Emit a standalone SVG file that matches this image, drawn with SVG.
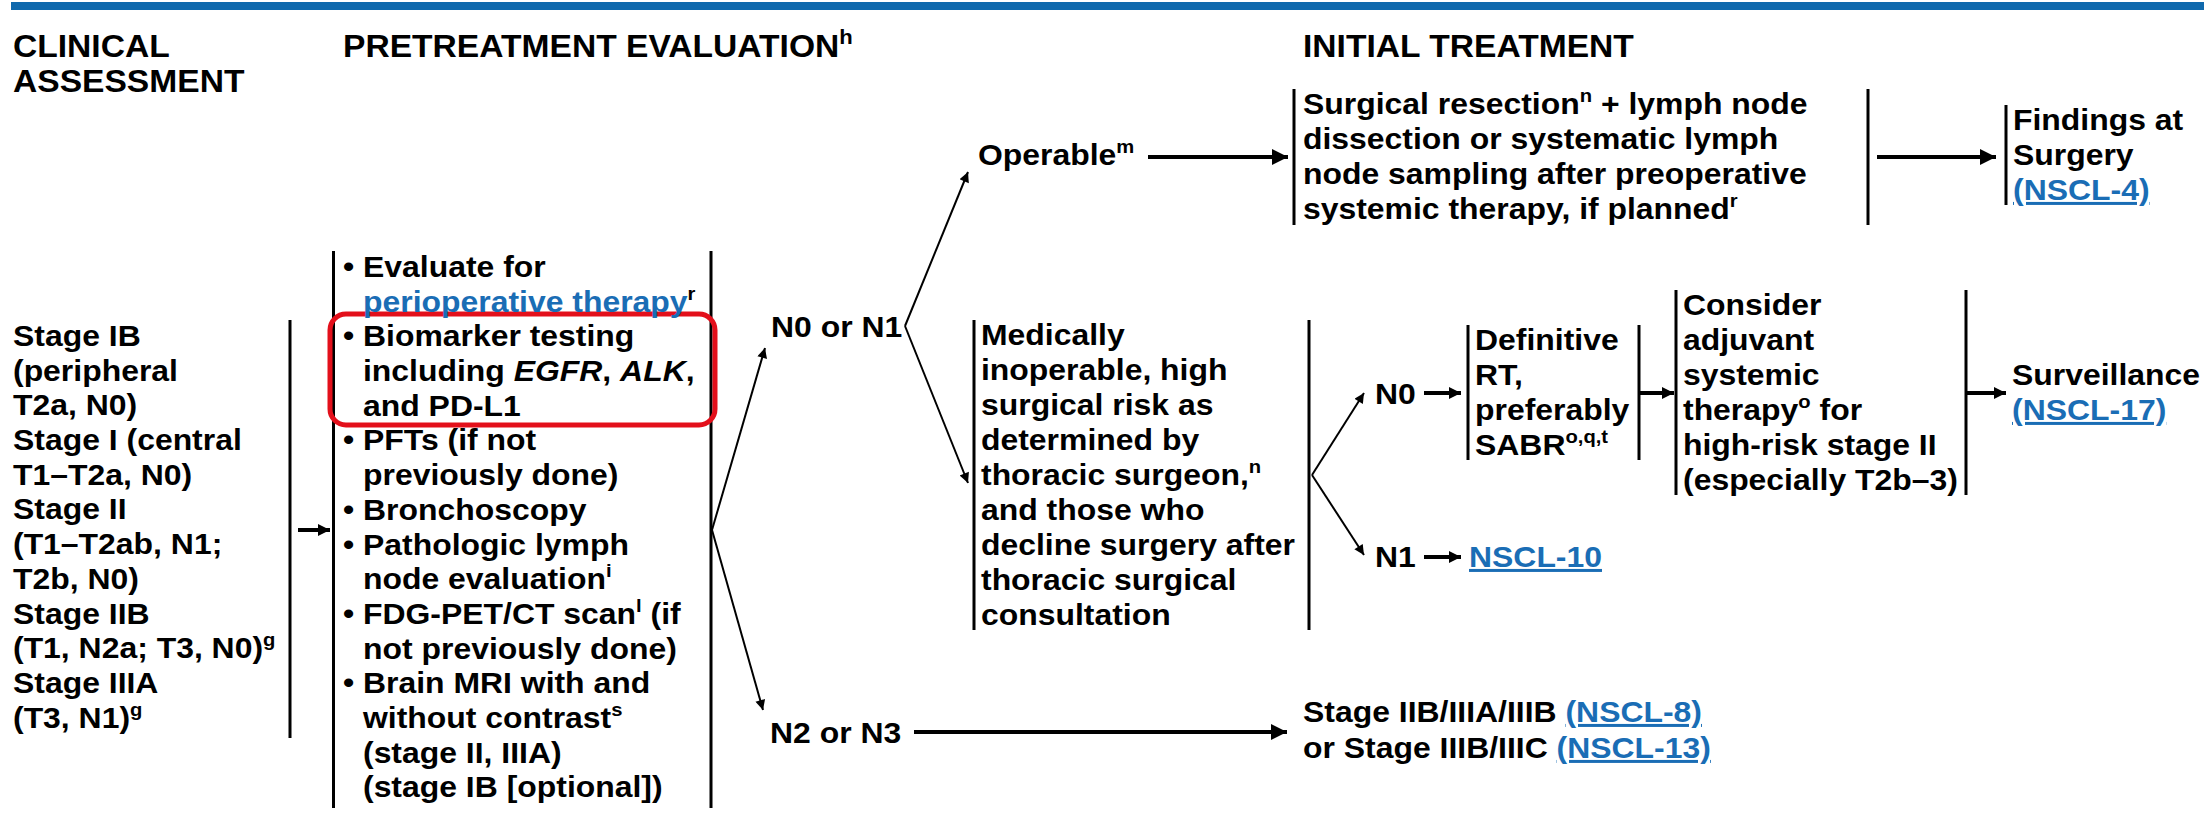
<svg xmlns="http://www.w3.org/2000/svg" width="2208" height="821" viewBox="0 0 2208 821">
<style>
.t{font-family:"Liberation Sans",Arial,Helvetica,sans-serif;font-weight:bold;font-size:30px;fill:#000}
.h{font-size:32px}
.s{font-size:19px}
.hs{font-size:21px}
.lk{fill:#1a6db5}
.u{text-decoration:underline}
.it{font-style:italic}
.bar{stroke:#000;stroke-width:3;fill:none}
.ln{stroke:#000;stroke-width:2;fill:none}
.thk{stroke:#000;stroke-width:4;fill:none}
</style>
<defs>
<marker id="big" viewBox="0 0 10 10" refX="10" refY="5" markerWidth="22" markerHeight="16" markerUnits="userSpaceOnUse" orient="auto"><path d="M0,0 L10,5 L0,10 z" fill="#000"/></marker>
<marker id="sm" viewBox="0 0 10 10" refX="10" refY="5" markerWidth="14" markerHeight="12" markerUnits="userSpaceOnUse" orient="auto"><path d="M0,0 L10,5 L0,10 z" fill="#000"/></marker>
<marker id="thin" viewBox="0 0 10 10" refX="10" refY="5" markerWidth="18" markerHeight="10" markerUnits="userSpaceOnUse" orient="auto"><path d="M0,0 L10,5 L0,10 z" fill="#000"/></marker>
</defs>
<rect width="2208" height="821" fill="#fff"/>
<rect x="11" y="2" width="2193" height="8" fill="#0f69ad"/>

<g id="headers">
<text class="t h" transform="translate(13,57) scale(1.05,1)"><tspan x="0" y="0">CLINICAL</tspan><tspan x="0" y="35.5">ASSESSMENT</tspan></text>
<text class="t h" transform="translate(343,57) scale(1.05,1)">PRETREATMENT EVALUATION<tspan class="hs" dy="-13">h</tspan></text>
<text class="t h" transform="translate(1303,57) scale(1.05,1)">INITIAL TREATMENT</text>
</g>

<g id="clinical">
<line class="bar" x1="290" y1="320" x2="290" y2="738"/>
<text class="t" transform="translate(13,346) scale(1.064,1)">
<tspan x="0" y="0">Stage IB</tspan>
<tspan x="0" y="34.7">(peripheral</tspan>
<tspan x="0" y="69.4">T2a, N0)</tspan>
<tspan x="0" y="104.1">Stage I (central</tspan>
<tspan x="0" y="138.8">T1–T2a, N0)</tspan>
<tspan x="0" y="173.5">Stage II</tspan>
<tspan x="0" y="208.2">(T1–T2ab, N1;</tspan>
<tspan x="0" y="242.9">T2b, N0)</tspan>
<tspan x="0" y="277.6">Stage IIB</tspan>
<tspan x="0" y="312.3">(T1, N2a; T3, N0)<tspan class="s" dy="-12">g</tspan></tspan>
<tspan x="0" y="347">Stage IIIA</tspan>
<tspan x="0" y="381.7">(T3, N1)<tspan class="s" dy="-12">g</tspan></tspan>
</text>
</g>

<g id="pretreatment">
<line class="bar" x1="333.5" y1="251" x2="333.5" y2="808"/>
<line class="bar" x1="711" y1="251" x2="711" y2="808"/>
<rect x="330" y="314" width="385" height="111" rx="16" ry="16" fill="none" stroke="#e3101b" stroke-width="5"/>
<text class="t" transform="translate(343,277) scale(1.064,1)">
<tspan x="0" y="0">•</tspan><tspan x="18.8" y="0">Evaluate for</tspan>
<tspan x="18.8" y="34.7" class="lk">perioperative therapy</tspan><tspan class="s" dy="-12">r</tspan>
<tspan x="0" y="69.4">•</tspan><tspan x="18.8" y="69.4">Biomarker testing</tspan>
<tspan x="18.8" y="104.1">including <tspan class="it">EGFR</tspan>, <tspan class="it">ALK</tspan>,</tspan>
<tspan x="18.8" y="138.8">and PD-L1</tspan>
<tspan x="0" y="173.5">•</tspan><tspan x="18.8" y="173.5">PFTs (if not</tspan>
<tspan x="18.8" y="208.2">previously done)</tspan>
<tspan x="0" y="242.9">•</tspan><tspan x="18.8" y="242.9">Bronchoscopy</tspan>
<tspan x="0" y="277.6">•</tspan><tspan x="18.8" y="277.6">Pathologic lymph</tspan>
<tspan x="18.8" y="312.3">node evaluation<tspan class="s" dy="-12">i</tspan></tspan>
<tspan x="0" y="347">•</tspan><tspan x="18.8" y="347">FDG-PET/CT scan<tspan class="s" dy="-12">l</tspan><tspan dy="12"> (if</tspan></tspan>
<tspan x="18.8" y="381.7">not previously done)</tspan>
<tspan x="0" y="416.4">•</tspan><tspan x="18.8" y="416.4">Brain MRI with and</tspan>
<tspan x="18.8" y="451.1">without contrast<tspan class="s" dy="-12">s</tspan></tspan>
<tspan x="18.8" y="485.8">(stage II, IIIA)</tspan>
<tspan x="18.8" y="520.5">(stage IB [optional])</tspan>
</text>
</g>

<g id="n0n1">
<text class="t" transform="translate(771,337) scale(1.064,1)">N0 or N1</text>
</g>
<g id="n2n3">
<text class="t" transform="translate(770,743) scale(1.064,1)">N2 or N3</text>
</g>
<g id="operable">
<text class="t" transform="translate(978,165) scale(1.064,1)">Operable<tspan class="s" dy="-12">m</tspan></text>
</g>

<g id="surgical">
<line class="bar" x1="1294" y1="89" x2="1294" y2="225"/>
<line class="bar" x1="1868" y1="89" x2="1868" y2="225"/>
<text class="t" transform="translate(1303,114) scale(1.064,1)">
<tspan x="0" y="0">Surgical resection<tspan class="s" dy="-12">n</tspan><tspan dy="12"> + lymph node</tspan></tspan>
<tspan x="0" y="35">dissection or systematic lymph</tspan>
<tspan x="0" y="70">node sampling after preoperative</tspan>
<tspan x="0" y="105">systemic therapy, if planned<tspan class="s" dy="-12">r</tspan></tspan>
</text>
</g>

<g id="findings">
<line class="bar" x1="2006" y1="105" x2="2006" y2="205"/>
<text class="t" transform="translate(2013,130) scale(1.064,1)">
<tspan x="0" y="0">Findings at</tspan>
<tspan x="0" y="35">Surgery</tspan>
<tspan x="0" y="70" class="lk u">(NSCL-4)</tspan>
</text>
</g>

<g id="inoperable">
<line class="bar" x1="974" y1="320" x2="974" y2="630"/>
<line class="bar" x1="1309" y1="320" x2="1309" y2="630"/>
<text class="t" transform="translate(981,345) scale(1.064,1)">
<tspan x="0" y="0">Medically</tspan>
<tspan x="0" y="35">inoperable, high</tspan>
<tspan x="0" y="70">surgical risk as</tspan>
<tspan x="0" y="105">determined by</tspan>
<tspan x="0" y="140">thoracic surgeon,<tspan class="s" dy="-12">n</tspan></tspan>
<tspan x="0" y="175">and those who</tspan>
<tspan x="0" y="210">decline surgery after</tspan>
<tspan x="0" y="245">thoracic surgical</tspan>
<tspan x="0" y="280">consultation</tspan>
</text>
</g>

<g id="n0">
<text class="t" transform="translate(1375,404) scale(1.064,1)">N0</text>
</g>
<g id="n1">
<text class="t" transform="translate(1375,567) scale(1.064,1)">N1</text>
</g>
<g id="nscl10">
<text class="t lk u" transform="translate(1469,567) scale(1.064,1)">NSCL-10</text>
</g>

<g id="definitive">
<line class="bar" x1="1468" y1="325" x2="1468" y2="460"/>
<line class="bar" x1="1639" y1="325" x2="1639" y2="460"/>
<text class="t" transform="translate(1475,350) scale(1.064,1)">
<tspan x="0" y="0">Definitive</tspan>
<tspan x="0" y="35">RT,</tspan>
<tspan x="0" y="70">preferably</tspan>
<tspan x="0" y="105">SABR<tspan class="s" dy="-12">o,q,t</tspan></tspan>
</text>
</g>

<g id="adjuvant">
<line class="bar" x1="1676" y1="290" x2="1676" y2="495"/>
<line class="bar" x1="1966" y1="290" x2="1966" y2="495"/>
<text class="t" transform="translate(1683,315) scale(1.064,1)">
<tspan x="0" y="0">Consider</tspan>
<tspan x="0" y="35">adjuvant</tspan>
<tspan x="0" y="70">systemic</tspan>
<tspan x="0" y="105">therapy<tspan class="s" dy="-12">o</tspan><tspan dy="12"> for</tspan></tspan>
<tspan x="0" y="140">high-risk stage II</tspan>
<tspan x="0" y="175">(especially T2b–3)</tspan>
</text>
</g>

<g id="surveillance">
<text class="t" transform="translate(2012,385) scale(1.064,1)">
<tspan x="0" y="0">Surveillance</tspan>
<tspan x="0" y="35" class="lk u">(NSCL-17)</tspan>
</text>
</g>

<g id="stage3">
<text class="t" transform="translate(1303,722) scale(1.064,1)">
<tspan x="0" y="0">Stage IIB/IIIA/IIIB <tspan class="lk u">(NSCL-8)</tspan></tspan>
<tspan x="0" y="36">or Stage IIIB/IIIC <tspan class="lk u">(NSCL-13)</tspan></tspan>
</text>
</g>

<g id="connectors">
<line class="thk" x1="298" y1="530" x2="330" y2="530" marker-end="url(#sm)"/>
<line class="ln" x1="712" y1="530" x2="765" y2="348" marker-end="url(#thin)"/>
<line class="ln" x1="712" y1="530" x2="763" y2="710" marker-end="url(#thin)"/>
<line class="ln" x1="905" y1="326" x2="968" y2="172" marker-end="url(#thin)"/>
<line class="ln" x1="905" y1="326" x2="968" y2="483" marker-end="url(#thin)"/>
<line class="thk" x1="1148" y1="157" x2="1288" y2="157" marker-end="url(#big)"/>
<line class="thk" x1="1877" y1="157" x2="1996" y2="157" marker-end="url(#big)"/>
<line class="thk" x1="914" y1="732" x2="1287" y2="732" marker-end="url(#big)"/>
<line class="ln" x1="1312" y1="475" x2="1364" y2="393" marker-end="url(#thin)"/>
<line class="ln" x1="1312" y1="475" x2="1364" y2="555" marker-end="url(#thin)"/>
<line class="thk" x1="1424" y1="393" x2="1461" y2="393" marker-end="url(#sm)"/>
<line class="thk" x1="1424" y1="557" x2="1461" y2="557" marker-end="url(#sm)"/>
<line class="thk" x1="1639" y1="393" x2="1674" y2="393" marker-end="url(#sm)"/>
<line class="thk" x1="1966" y1="393" x2="2006" y2="393" marker-end="url(#sm)"/>
</g>
</svg>
